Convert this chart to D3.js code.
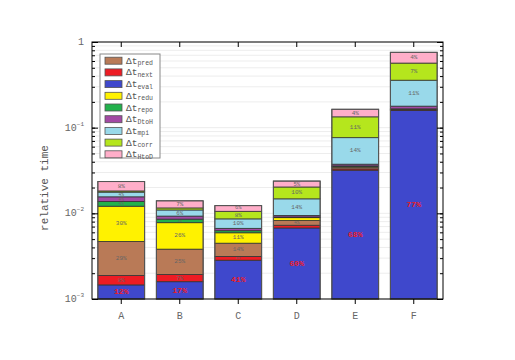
<!DOCTYPE html>
<html>
<head>
<meta charset="utf-8">
<script src="https://cdnjs.cloudflare.com/ajax/libs/d3/7.8.5/d3.min.js"></script>
<style>
  body { margin: 0; background: #fff; }
  text { font-family: "Courier New", "Liberation Mono", monospace; }
</style>
</head>
<body>
<div id="chart"></div>
<script>
const categories = ["A", "B", "C", "D", "E", "F"];
// total relative time of each bar
const totals = [0.0235, 0.0140, 0.0123, 0.0238, 0.164, 0.758];
// stacking order, bottom to top
const series = ["eval", "next", "pred", "redu", "repo", "DtoH", "mpi", "corr", "HtoD"];
// share of each part in %, per bar (same order as series)
const shares = {
  A: [12, 8, 29, 30, 4, 4, 4, 1, 8],
  B: [17, 7, 25, 26, 3.5, 3, 6, 2, 7],
  C: [41, 4, 14, 11, 2.2, 2.5, 10, 8, 6],
  D: [60, 2.3, 4, 2.4, 0.6, 1.3, 14, 10, 5],
  E: [68, 0.7, 0.9, 0.4, 0.3, 0.9, 14, 11, 4],
  F: [77, 0.2, 0.2, 0.2, 0.1, 1.1, 10.6, 7, 4.4],
};
const legendOrder = ["pred", "next", "eval", "redu", "repo", "DtoH", "mpi", "corr", "HtoD"];
const colors = {
  pred: "#b97a57",
  next: "#ed1c24",
  eval: "#3f48cc",
  redu: "#fff200",
  repo: "#22b14c",
  DtoH: "#a349a4",
  mpi: "#99d9ea",
  corr: "#b5e61d",
  HtoD: "#ffaec9",
};
const majorTicks = [1e-3, 1e-2, 1e-1, 1];

const W = 515, H = 360;
const mLeft = 92, mRight = 443, mTop = 42, mBottom = 299;

const svg = d3.select("#chart").append("svg")
  .attr("width", W)
  .attr("height", H);

const x = d3.scaleBand().domain(categories).range([mLeft, mRight])
  .paddingInner(0.2).paddingOuter(0.1);
const y = d3.scaleLog().domain([1e-3, 1]).range([mBottom, mTop]);

// faint grid at every log tick
svg.append("g").selectAll("line")
  .data(y.ticks())
  .enter().append("line")
  .attr("x1", mLeft).attr("x2", mRight)
  .attr("y1", (d) => y(d)).attr("y2", (d) => y(d))
  .attr("stroke", "#ededed")
  .attr("stroke-width", 1);

// bars: each part takes its share of the bar's height on the log axis
const lo = Math.log10(1e-3);
categories.forEach((cat, i) => {
  const vals = shares[cat];
  const sum = d3.sum(vals);
  const hi = Math.log10(totals[i]);
  let acc = 0;
  const g = svg.append("g");
  vals.forEach((v, j) => {
    const v0 = Math.pow(10, lo + (acc / sum) * (hi - lo));
    acc += v;
    const v1 = Math.pow(10, lo + (acc / sum) * (hi - lo));
    const key = series[j];
    const h = y(v0) - y(v1);
    g.append("rect")
      .attr("x", x(cat))
      .attr("width", x.bandwidth())
      .attr("y", y(v1))
      .attr("height", h)
      .attr("fill", colors[key])
      .attr("stroke", "#333")
      .attr("stroke-width", 0.8);
    if (v >= 3.5) {
      const isEval = key === "eval";
      g.append("text")
        .attr("x", x(cat) + x.bandwidth() / 2)
        .attr("y", (y(v0) + y(v1)) / 2)
        .attr("text-anchor", "middle")
        .attr("dominant-baseline", "central")
        .attr("font-size", isEval ? 8 : Math.min(6, h * 0.95))
        .attr("font-weight", isEval ? "bold" : "normal")
        .attr("fill", isEval ? "#ed1c24" : "#666")
        .text(Math.round(v) + "%");
    }
  });
  g.append("rect")
    .attr("x", x(cat))
    .attr("width", x.bandwidth())
    .attr("y", y(totals[i]))
    .attr("height", mBottom - y(totals[i]))
    .attr("fill", "none")
    .attr("stroke", "#555")
    .attr("stroke-width", 1);
});

// frame
svg.append("rect")
  .attr("x", mLeft).attr("y", mTop)
  .attr("width", mRight - mLeft).attr("height", mBottom - mTop)
  .attr("fill", "none")
  .attr("stroke", "#000")
  .attr("stroke-width", 1);

// y ticks, inward on both sides
function yTicks(xPos, dir) {
  const minor = svg.append("g")
    .attr("transform", `translate(${xPos},0)`)
    .call((dir > 0 ? d3.axisRight(y) : d3.axisLeft(y))
      .tickValues(y.ticks()).tickSize(3).tickFormat(""));
  const major = svg.append("g")
    .attr("transform", `translate(${xPos},0)`)
    .call((dir > 0 ? d3.axisRight(y) : d3.axisLeft(y))
      .tickValues(majorTicks).tickSize(6).tickFormat(""));
  [minor, major].forEach((a) => {
    a.select(".domain").remove();
    a.selectAll("line").attr("stroke", "#000");
  });
}
yTicks(mLeft, 1);
yTicks(mRight, -1);

// y tick labels
svg.append("g").selectAll("text")
  .data(majorTicks)
  .enter().append("text")
  .attr("x", mLeft - 8)
  .attr("y", (d) => y(d))
  .attr("text-anchor", "end")
  .attr("dominant-baseline", "central")
  .attr("font-size", 10)
  .attr("fill", "#666")
  .each(function (d) {
    const t = d3.select(this);
    const e = Math.round(Math.log10(d));
    if (e === 0) {
      t.text("1");
    } else {
      t.append("tspan").text("10");
      t.append("tspan").attr("font-size", 6).attr("dy", -4).text("\u2212" + -e);
    }
  });

// x ticks: bottom outward, top inward
const xb = svg.append("g")
  .attr("transform", `translate(0,${mBottom})`)
  .call(d3.axisBottom(x).tickSize(5).tickSizeOuter(0));
xb.select(".domain").remove();
xb.selectAll("line").attr("stroke", "#000");
xb.selectAll("text")
  .attr("font-size", 10)
  .attr("fill", "#666")
  .attr("font-family", '"Courier New", "Liberation Mono", monospace')
  .attr("dy", "1.2em");

const xt = svg.append("g")
  .attr("transform", `translate(0,${mTop})`)
  .call(d3.axisBottom(x).tickSize(5).tickSizeOuter(0).tickFormat(""));
xt.select(".domain").remove();
xt.selectAll("line").attr("stroke", "#000");

// y axis title
svg.append("text")
  .attr("transform", `translate(45,188) rotate(-90)`)
  .attr("text-anchor", "middle")
  .attr("dominant-baseline", "central")
  .attr("font-size", 11)
  .attr("fill", "#555")
  .text("relative time");

// legend
const lg = svg.append("g").attr("transform", "translate(100,54)");
lg.append("rect")
  .attr("width", 60).attr("height", 104)
  .attr("fill", "#fff")
  .attr("stroke", "#888")
  .attr("stroke-width", 1);
legendOrder.forEach((key, i) => {
  const row = lg.append("g").attr("transform", `translate(5,${6.7 + i * 11.7})`);
  row.append("rect")
    .attr("x", 0).attr("y", -3.5)
    .attr("width", 17).attr("height", 7)
    .attr("fill", colors[key])
    .attr("stroke", "#555")
    .attr("stroke-width", 0.8);
  const t = row.append("text")
    .attr("x", 21).attr("y", 0)
    .attr("dominant-baseline", "central")
    .attr("font-size", 9.5)
    .attr("fill", "#555");
  t.append("tspan").text("\u0394t");
  t.append("tspan").attr("font-size", 6.5).attr("dy", 2.5).text(key);
});
</script>
</body>
</html>
